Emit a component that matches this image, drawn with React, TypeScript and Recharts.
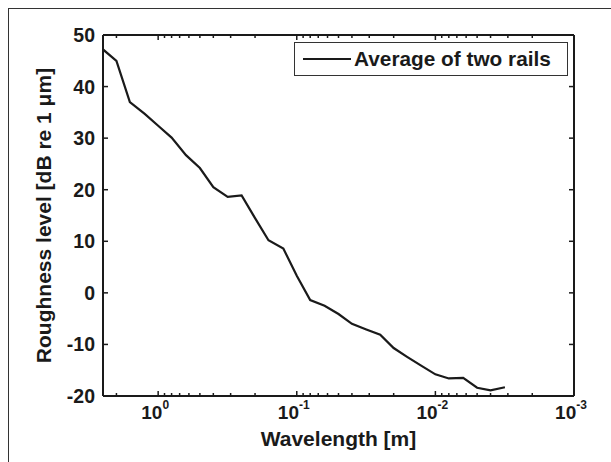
import React from 'react';
import { LineChart, Line, XAxis, YAxis, Legend } from 'recharts';

// 1/3-octave band centre wavelengths [m]
const wavelengths = [
  2.5, 2, 1.6, 1.25, 1, 0.8, 0.63, 0.5, 0.4, 0.315,
  0.25, 0.2, 0.16, 0.125, 0.1, 0.08, 0.063, 0.05, 0.04, 0.0315,
  0.025, 0.02, 0.016, 0.0125, 0.01, 0.008, 0.0063, 0.005, 0.004, 0.00315,
];
// roughness level [dB re 1 um], average of two rails
const roughness = [
  47.2, 45.0, 37.0, 34.7, 32.4, 30.1, 26.7, 24.2, 20.5, 18.6,
  18.9, 14.5, 10.2, 8.6, 3.3, -1.4, -2.5, -4.1, -6.0, -7.1,
  -8.1, -10.7, -12.4, -14.2, -15.8, -16.6, -16.5, -18.4, -18.9, -18.3,
];

const majorTicks = [1, 0.1, 0.01, 0.001];
const majorExponents = ['0', '-1', '-2', '-3'];
const minorFactors = [2, 3, 4, 5, 6, 7, 8, 9];
const yTicks = [-20, -10, 0, 10, 20, 30, 40, 50];

const xMin = 0.001;
const xMax = 2.5;

const xTicks = [
  ...majorTicks,
  ...majorTicks.flatMap((d) => minorFactors.map((f) => +(d * f).toPrecision(3))),
].filter((v) => v <= xMax);

const data = wavelengths.map((w, i) => ({ wavelength: w, level: roughness[i] }));

const FONT = '"Liberation Sans", Arial, Helvetica, sans-serif';
const INK = '#1a1a1a';

const majorIndex = (v: number) => majorTicks.findIndex((m) => Math.abs(m - v) < m * 1e-6);

const BottomTick = (props: any) => {
  const { x, y, payload } = props;
  const idx = majorIndex(payload.value);
  const major = idx >= 0;
  return (
    <g>
      <line x1={x} x2={x} y1={y} y2={y - (major ? 5 : 3)} stroke={INK} strokeWidth={1.5} />
      {major && (
        <text x={x - 3} y={y + 23} textAnchor="middle" fontFamily={FONT} fontWeight="bold" fontSize={19} fill={INK}>
          10
          <tspan dy={-10} fontSize={12}>{majorExponents[idx]}</tspan>
        </text>
      )}
    </g>
  );
};

const TopTick = (props: any) => {
  const { x, y, payload } = props;
  const major = majorIndex(payload.value) >= 0;
  return <line x1={x} x2={x} y1={y} y2={y + (major ? 5 : 3)} stroke={INK} strokeWidth={1.5} />;
};

const LeftTick = (props: any) => {
  const { x, y, payload } = props;
  return (
    <g>
      <line x1={x} x2={x + 5} y1={y} y2={y} stroke={INK} strokeWidth={1.5} />
      <text x={x - 8} y={y} dy="0.36em" textAnchor="end" fontFamily={FONT} fontWeight="bold" fontSize={19.5} fill={INK}>
        {payload.value}
      </text>
    </g>
  );
};

const RightTick = (props: any) => {
  const { x, y } = props;
  return <line x1={x} x2={x - 5} y1={y} y2={y} stroke={INK} strokeWidth={1.5} />;
};

const LegendBox = () => (
  <div
    style={{
      boxSizing: 'border-box',
      width: 274,
      height: 34,
      border: '1.5px solid #333',
      background: '#fff',
      display: 'flex',
      alignItems: 'center',
      fontFamily: FONT,
      fontWeight: 'bold',
      fontSize: 20.8,
      color: INK,
    }}
  >
    <svg width={56} height={10} style={{ flex: 'none' }}>
      <line x1={8} x2={56} y1={5} y2={5} stroke={INK} strokeWidth={2.2} />
    </svg>
    <span style={{ marginLeft: 3, whiteSpace: 'nowrap' }}>Average of two rails</span>
  </div>
);

const axisLine = { stroke: INK, strokeWidth: 2 };

export default function App() {
  return (
    <div style={{ position: 'absolute', left: 0, top: 0, width: 611, height: 462, background: '#fff', overflow: 'hidden' }}>
      <div
        style={{
          position: 'absolute',
          left: 8,
          top: 8,
          width: 603,
          height: 454,
          borderTop: '1.5px solid #333',
          borderLeft: '1.5px solid #333',
        }}
      />
      <div style={{ position: 'absolute', left: 0, top: 0 }}>
        <LineChart width={611} height={462} data={data} margin={{ top: 34, right: 36, bottom: 6, left: 0 }}>
          <XAxis
            xAxisId="bottom"
            dataKey="wavelength"
            type="number"
            scale="log"
            domain={[xMin, xMax]}
            allowDataOverflow
            reversed
            ticks={xTicks}
            interval={0}
            tickSize={0}
            tickMargin={0}
            tickLine={false}
            axisLine={axisLine}
            tick={<BottomTick />}
            height={60}
            label={{
              value: 'Wavelength [m]',
              position: 'insideBottom',
              offset: 10,
              style: { fontFamily: FONT, fontWeight: 'bold', fontSize: 21, fill: INK },
            }}
          />
          <XAxis
            xAxisId="top"
            orientation="top"
            dataKey="wavelength"
            type="number"
            scale="log"
            domain={[xMin, xMax]}
            allowDataOverflow
            reversed
            ticks={xTicks}
            interval={0}
            tickSize={0}
            tickMargin={0}
            tickLine={false}
            axisLine={axisLine}
            tick={<TopTick />}
            height={1}
          />
          <YAxis
            yAxisId="left"
            type="number"
            domain={[-20, 50]}
            allowDataOverflow
            ticks={yTicks}
            interval={0}
            tickSize={0}
            tickMargin={0}
            tickLine={false}
            axisLine={axisLine}
            tick={<LeftTick />}
            width={103}
            label={{
              value: 'Roughness level [dB re 1 \u03bcm]',
              angle: -90,
              position: 'insideLeft',
              offset: 44,
              style: { textAnchor: 'middle', fontFamily: FONT, fontWeight: 'bold', fontSize: 21, fill: INK },
            }}
          />
          <YAxis
            yAxisId="right"
            orientation="right"
            type="number"
            domain={[-20, 50]}
            allowDataOverflow
            ticks={yTicks}
            interval={0}
            tickSize={0}
            tickMargin={0}
            tickLine={false}
            axisLine={axisLine}
            tick={<RightTick />}
            width={1}
          />
          <Legend
            layout="vertical"
            align="center"
            verticalAlign="middle"
            content={<LegendBox />}
            wrapperStyle={{ left: 294, top: 42, width: 274, height: 34 }}
          />
          <Line
            xAxisId="bottom"
            yAxisId="left"
            type="linear"
            dataKey="level"
            name="Average of two rails"
            stroke={INK}
            strokeWidth={2.2}
            dot={false}
            isAnimationActive={false}
          />
          {/* invisible twin so the top / right frame axes get drawn */}
          <Line
            xAxisId="top"
            yAxisId="right"
            type="linear"
            dataKey="level"
            stroke="none"
            legendType="none"
            dot={false}
            activeDot={false}
            isAnimationActive={false}
          />
        </LineChart>
      </div>
    </div>
  );
}
